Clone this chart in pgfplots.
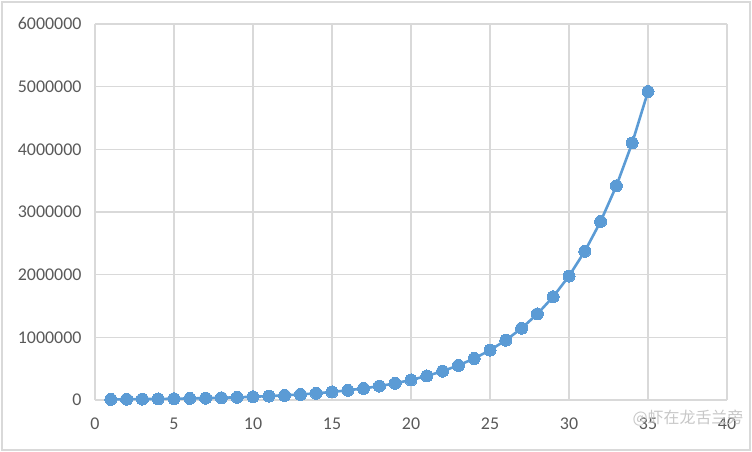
\documentclass[border=0pt]{standalone}
\usepackage{pgfplots}
\pgfplotsset{compat=1.18}
\usepackage{fontspec}
\setmainfont{Carlito}
\newfontfamily\cjk{Noto Sans CJK SC}
\definecolor{serblue}{HTML}{5B9BD5}
\definecolor{gridc}{HTML}{D9D9D9}
\definecolor{labc}{HTML}{595959}
\begin{document}
\begin{tikzpicture}
\useasboundingbox (-95bp,-52bp) rectangle (657bp,400bp);
\draw[gridc, line width=1.5bp] (-93bp,-50bp) rectangle (655bp,398bp);
\begin{axis}[at={(0,0)}, anchor=south west, scale only axis,
  width=632bp, height=376bp,
  xmin=0, xmax=40, ymin=0, ymax=6000000,
  xtick={0,5,...,40}, ytick={0,1000000,2000000,3000000,4000000,5000000,6000000},
  grid=major, major grid style={gridc, line width=1.2bp},
  axis line style={draw=none},
  tick style={draw=none},
  ticklabel style={font=\fontsize{18}{18}\selectfont, text=labc},
  xticklabel style={yshift=-14bp},
  scaled y ticks=false,
  yticklabel style={xshift=-10bp, /pgf/number format/fixed, /pgf/number format/1000 sep={}},
  /pgf/number format/assume math mode=true,
  clip=false,
]
\addplot[serblue, line width=2.6bp, mark=*, mark size=6bp,
  mark options={fill=serblue, draw=serblue, line width=0pt}] coordinates {
(1,10000) (2,12000) (3,14400) (4,17280) (5,20736) (6,24883) (7,29860)
(8,35832) (9,42998) (10,51598) (11,61917) (12,74301) (13,89161)
(14,106993) (15,128392) (16,154070) (17,184884) (18,221861) (19,266233)
(20,319480) (21,383376) (22,460051) (23,552061) (24,662474) (25,794968)
(26,953962) (27,1144755) (28,1373706) (29,1648447) (30,1978136)
(31,2373763) (32,2848516) (33,3418219) (34,4101863) (35,4922235)
};
\end{axis}
\node[text=black!22, font=\cjk\fontsize{16}{16}\selectfont] at (593bp,-18bp) {@虾在龙舌兰旁};
\end{tikzpicture}
\end{document}
